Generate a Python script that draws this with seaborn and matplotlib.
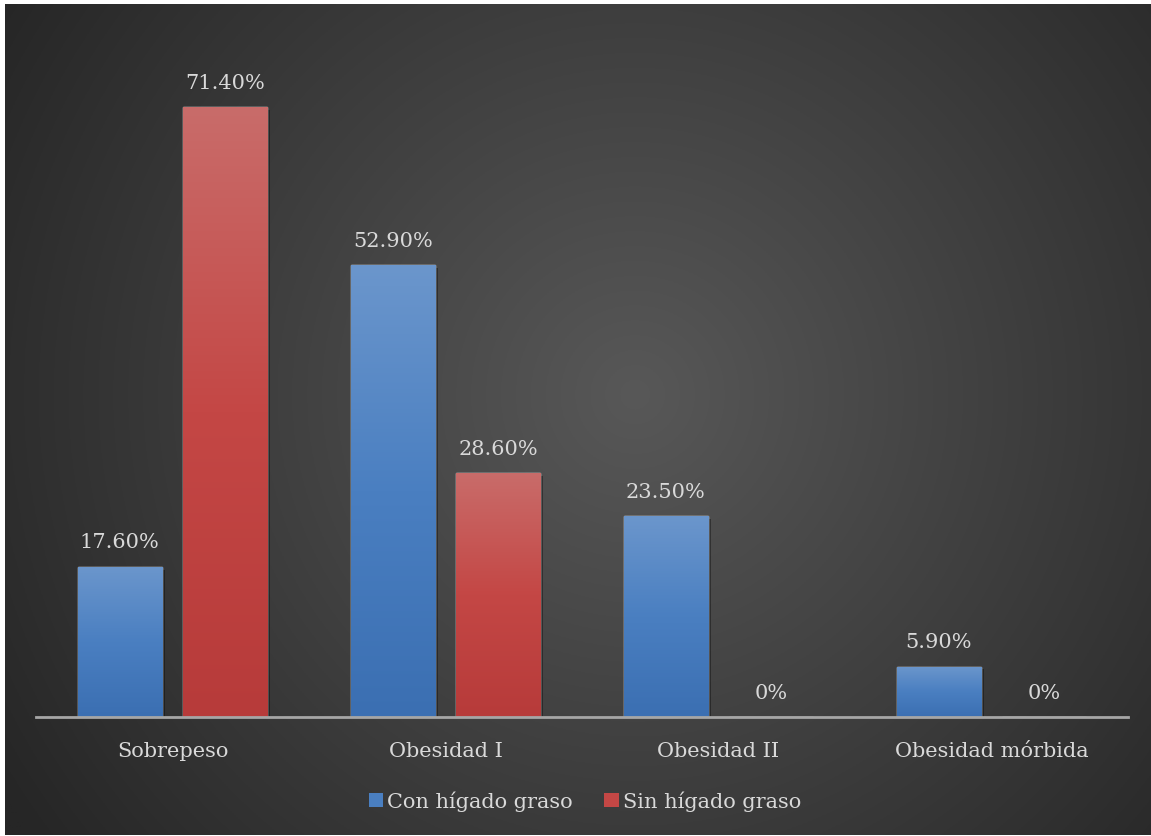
import numpy as np
import pandas as pd
import matplotlib
matplotlib.use("Agg")
import matplotlib.pyplot as plt
import seaborn as sns
from matplotlib.colors import LinearSegmentedColormap
from matplotlib.patches import Patch
import matplotlib.patheffects as pe

categories = ["Sobrepeso", "Obesidad I", "Obesidad II", "Obesidad mórbida"]
series = ["Con hígado graso", "Sin hígado graso"]
con_values = [17.6, 52.9, 23.5, 5.9]
sin_values = [71.4, 28.6, 0.0, 0.0]
con_labels = ["17.60%", "52.90%", "23.50%", "5.90%"]
sin_labels = ["71.40%", "28.60%", "0%", "0%"]

df = pd.DataFrame({
    "categoria": categories * 2,
    "serie": [series[0]] * 4 + [series[1]] * 4,
    "valor": con_values + sin_values,
})

sns.set_theme(style="white")
plt.rcParams["font.family"] = ["DejaVu Serif"]

W, H = 1151, 837
fig = plt.figure(figsize=(W / 100, H / 100), dpi=100, facecolor="white")

# background radial gradient
bg = fig.add_axes([5 / W, 1 / H, (W - 5) / W, (H - 6) / H])
ny, nx = 420, 575
yy, xx = np.mgrid[0:1:ny * 1j, 0:1:nx * 1j]
dx = (xx - 0.55) * W
dy = (yy - 0.47) * H
r = np.clip(np.hypot(dx, dy) / 750.0, 0, 1)
val = (88 - 50 * r) / 255.0
img = np.dstack([val, val, val])
bg.imshow(img, aspect="auto", extent=[0, 1, 0, 1], origin="upper")
bg.set_axis_off()

ax = fig.add_axes([36 / W, (H - 718) / H, (1128 - 36) / W, (718 - 35) / H])
ax.set_facecolor("none")
palette = {series[0]: "#4a7fc1", series[1]: "#c44745"}
sns.barplot(data=df, x="categoria", y="valor", hue="serie", order=categories,
            hue_order=series, palette=palette, width=0.773, gap=0.2,
            legend=False, ax=ax, saturation=1)

grad = {
    series[0]: LinearSegmentedColormap.from_list("b", ["#3b6fb2", "#4a7fc1", "#6b96cc"]),
    series[1]: LinearSegmentedColormap.from_list("r", ["#b73b3a", "#c44745", "#c96c6a"]),
}
patches = [p for p in ax.patches]
n = len(categories)
for i, p in enumerate(patches):
    s = series[0] if i < n else series[1]
    x0, w, h = p.get_x(), p.get_width(), p.get_height()
    p.set_path_effects([pe.SimplePatchShadow(offset=(2, -2), shadow_rgbFace="black", alpha=0.35), pe.Normal()])
    if h > 0:
        g = np.linspace(0, 1, 256).reshape(-1, 1)
        im = ax.imshow(g, cmap=grad[s], aspect="auto", origin="lower",
                       extent=[x0, x0 + w, 0, h], zorder=p.get_zorder() + 0.1)
        im.set_clip_path(p)

labels = con_labels + sin_labels
txtcol = "#d9d9d9"
for p, lab in zip(patches, labels):
    ax.annotate(lab, (p.get_x() + p.get_width() / 2, p.get_height()),
                xytext=(0, 11), textcoords="offset points", ha="center", va="bottom",
                color=txtcol, fontsize=15)

ax.set_xlim(-0.5, 3.5)
ax.set_ylim(0, 80)
ax.set_xlabel("")
ax.set_ylabel("")
ax.set_yticks([])
ax.tick_params(axis="x", length=0, pad=17, colors=txtcol, labelsize=15)
for sp in ["top", "left", "right"]:
    ax.spines[sp].set_visible(False)
ax.spines["bottom"].set_color("#a6a6a6")
ax.spines["bottom"].set_linewidth(2)
ax.spines["bottom"].set_zorder(5)

handles = [Patch(facecolor="#4a7fc1", edgecolor="none"),
           Patch(facecolor="#c44745", edgecolor="none")]
fig.legend(handles, series, loc="center", bbox_to_anchor=(585 / W, 1 - 802 / H),
           ncol=2, frameon=False, fontsize=15, labelcolor=txtcol,
           handlelength=0.7, handleheight=0.7, handletextpad=0.2, columnspacing=1.5)

fig.savefig("out.png", dpi=100, facecolor="white")
